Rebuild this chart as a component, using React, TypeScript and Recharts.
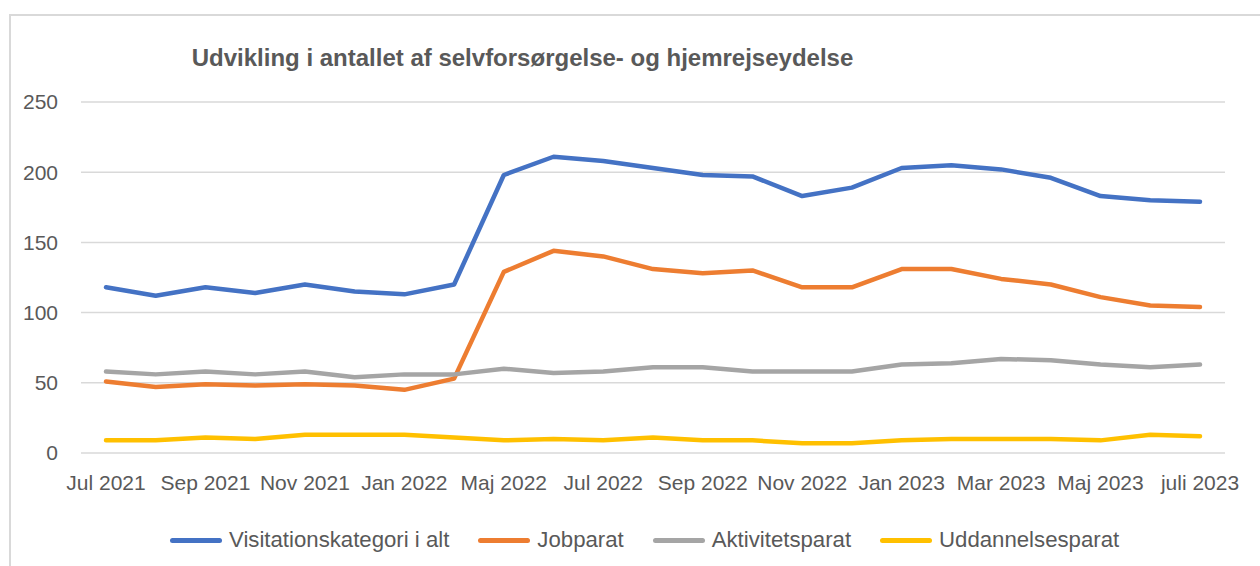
import { LineChart, Line, XAxis, YAxis, CartesianGrid } from 'recharts';

const months = [
  'Jul 2021', 'Aug 2021', 'Sep 2021', 'Okt 2021', 'Nov 2021', 'Dec 2021', 'Jan 2022', 'Feb 2022',
  'Maj 2022', 'Jun 2022', 'Jul 2022', 'Aug 2022', 'Sep 2022', 'Okt 2022', 'Nov 2022', 'Dec 2022',
  'Jan 2023', 'Feb 2023', 'Mar 2023', 'Apr 2023', 'Maj 2023', 'Jun 2023', 'juli 2023',
];

const visitation = [118, 112, 118, 114, 120, 115, 113, 120, 198, 211, 208, 203, 198, 197, 183, 189, 203, 205, 202, 196, 183, 180, 179];
const jobparat = [51, 47, 49, 48, 49, 48, 45, 53, 129, 144, 140, 131, 128, 130, 118, 118, 131, 131, 124, 120, 111, 105, 104];
const aktivitetsparat = [58, 56, 58, 56, 58, 54, 56, 56, 60, 57, 58, 61, 61, 58, 58, 58, 63, 64, 67, 66, 63, 61, 63];
const uddannelsesparat = [9, 9, 11, 10, 13, 13, 13, 11, 9, 10, 9, 11, 9, 9, 7, 7, 9, 10, 10, 10, 9, 13, 12];

const yTicks = [0, 50, 100, 150, 200, 250];

const SERIES = [
  { key: 'visitation', name: 'Visitationskategori i alt', color: '#4472C4' },
  { key: 'jobparat', name: 'Jobparat', color: '#ED7D31' },
  { key: 'aktivitetsparat', name: 'Aktivitetsparat', color: '#A5A5A5' },
  { key: 'uddannelsesparat', name: 'Uddannelsesparat', color: '#FFC000' },
];

const data = months.map((month, i) => ({
  month,
  visitation: visitation[i],
  jobparat: jobparat[i],
  aktivitetsparat: aktivitetsparat[i],
  uddannelsesparat: uddannelsesparat[i],
}));

const FONT = "'Liberation Sans', Arial, sans-serif";
const TEXT = '#595959';
const TICK = { fontSize: 21, fill: TEXT, fontFamily: FONT };

export default function App() {
  return (
    <div style={{ position: 'absolute', left: 0, top: 0, width: 1260, height: 566, background: '#fff', fontFamily: FONT, overflow: 'hidden' }}>
      {/* chart frame, only top and left edges are visible */}
      <div
        style={{
          position: 'absolute',
          left: 9,
          top: 14,
          width: 1300,
          height: 600,
          borderTop: '2px solid #d9d9d9',
          borderLeft: '2px solid #d9d9d9',
        }}
      />
      <div
        style={{
          position: 'absolute',
          left: 0,
          width: 1045,
          top: 44,
          textAlign: 'center',
          fontSize: 24,
          fontWeight: 'bold',
          color: TEXT,
          whiteSpace: 'nowrap',
        }}
      >
        Udvikling i antallet af selvforsørgelse- og hjemrejseydelse
      </div>
      <div style={{ position: 'absolute', left: 0, top: 0 }}>
        <LineChart width={1260} height={566} data={data} margin={{ top: 102, right: 35, bottom: 73, left: 21 }}>
          <CartesianGrid horizontal vertical={false} stroke="#d9d9d9" strokeWidth={1.5} />
          <XAxis
            dataKey="month"
            interval={1}
            axisLine={false}
            tickLine={false}
            tick={TICK}
            tickMargin={16}
            height={40}
            padding={{ left: 25, right: 25 }}
          />
          <YAxis
            domain={[0, 250]}
            ticks={yTicks}
            axisLine={false}
            tickLine={false}
            tickSize={0}
            tickMargin={23}
            width={60}
            tick={TICK}
          />
          {SERIES.map((s) => (
            <Line
              key={s.key}
              type="linear"
              dataKey={s.key}
              name={s.name}
              stroke={s.color}
              strokeWidth={4.5}
              strokeLinecap="round"
              strokeLinejoin="round"
              dot={false}
              activeDot={false}
              isAnimationActive={false}
            />
          ))}
        </LineChart>
      </div>
      <div style={{ position: 'absolute', left: 170, top: 526, display: 'flex', alignItems: 'center', height: 28 }}>
        {SERIES.map((s) => (
          <div key={s.key} style={{ display: 'flex', alignItems: 'center', marginRight: 29 }}>
            <div style={{ width: 52, height: 5, borderRadius: 3, background: s.color, marginRight: 7 }} />
            <span style={{ fontSize: 22.2, color: TEXT }}>{s.name}</span>
          </div>
        ))}
      </div>
    </div>
  );
}
